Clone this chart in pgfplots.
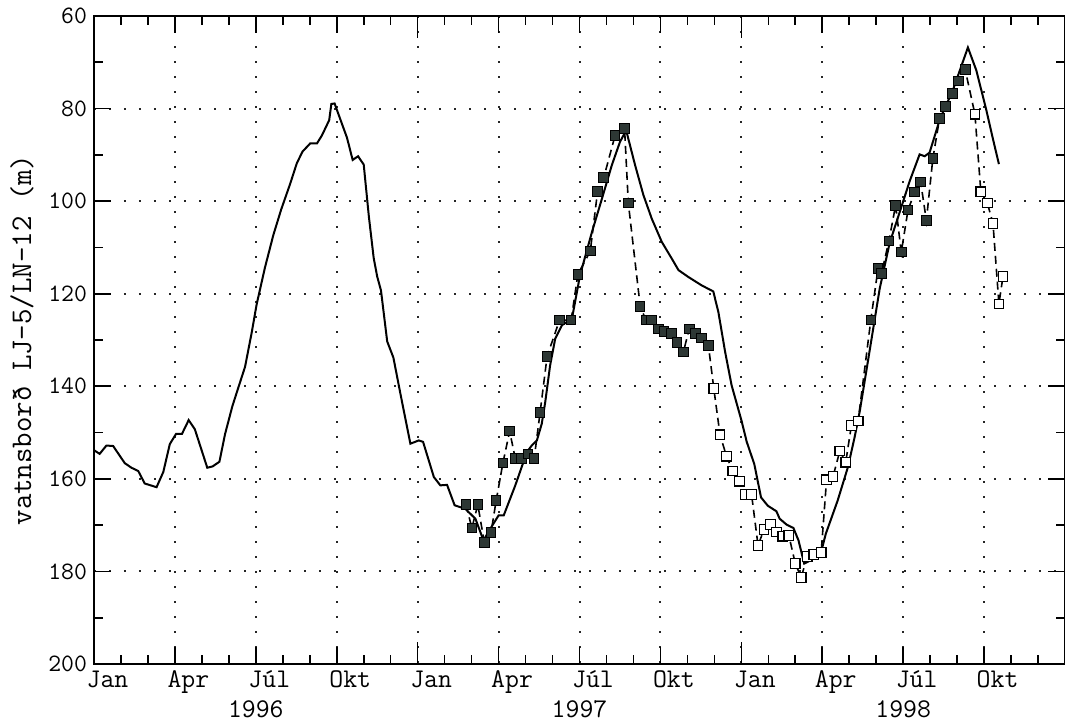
\documentclass[border=0pt]{standalone}
\usepackage{pgfplots}
\usepackage{pgfplotstable}
\pgfplotsset{compat=1.18}
\definecolor{sqfill}{RGB}{45,55,52}

\pgfplotstableread{
m v
0.00 153.8
0.21 154.6
0.46 152.8
0.71 152.9
1.14 156.6
1.39 157.6
1.64 158.3
1.88 161.0
2.32 161.8
2.57 158.5
2.81 152.5
3.04 150.3
3.26 150.3
3.51 147.3
3.74 149.3
4.20 157.6
4.40 157.3
4.65 156.3
4.86 150.3
5.13 144.3
5.35 140.3
5.60 135.8
5.85 128.3
6.03 122.3
6.34 114.3
6.65 107.3
6.94 101.8
7.27 96.3
7.52 91.8
7.73 89.3
8.02 87.5
8.27 87.5
8.45 85.8
8.72 82.5
8.80 79.0
8.92 78.9
9.10 81.8
9.38 86.3
9.59 91.1
9.79 90.3
10.00 92.1
10.19 103.3
10.37 112.3
10.50 116.3
10.64 119.3
10.87 130.3
11.10 133.8
11.35 141.3
11.73 152.4
12.04 151.7
12.20 152.0
12.60 159.6
12.84 161.4
13.09 161.3
13.37 165.7
13.77 166.5
14.14 168.6
14.44 173.3
14.69 170.8
15.00 167.9
15.19 167.9
15.62 161.4
16.05 154.2
16.23 152.8
16.42 151.7
16.60 148.1
16.73 143.4
16.91 135.5
17.10 129.7
17.35 126.8
17.72 125.4
18.02 116.0
18.46 106.7
18.83 99.5
19.20 92.2
19.50 87.2
19.73 84.7
20.06 92.2
20.37 98.7
20.68 103.8
21.05 108.8
21.42 112.4
21.67 114.9
22.04 116.4
22.53 118.2
22.96 119.5
23.15 124.0
23.40 132.6
23.64 139.8
24.01 147.5
24.20 152.0
24.48 156.8
24.73 164.0
24.98 165.8
25.30 167.0
25.42 168.6
25.68 169.9
25.93 170.6
26.12 173.3
26.33 178.3
26.50 177.8
26.94 176.2
27.13 171.9
27.57 164.7
27.95 157.5
28.20 151.0
28.39 145.4
28.76 132.2
29.13 118.9
29.50 109.0
29.87 102.4
30.24 95.7
30.61 89.9
30.80 90.3
30.98 89.5
31.35 82.5
31.85 75.9
32.40 66.8
32.71 71.7
33.07 80.0
33.33 86.6
33.55 92.0
}\levelline

\pgfplotstableread{
m v t
13.79 165.6 f
14.01 170.6 f
14.23 165.6 f
14.47 173.7 f
14.72 171.6 f
14.91 164.7 f
15.16 156.6 f
15.41 149.7 f
15.62 155.6 f
15.84 155.6 f
16.09 154.6 f
16.32 155.6 f
16.54 145.6 f
16.80 133.5 f
17.26 125.7 f
17.69 125.7 f
17.94 115.8 f
18.40 110.8 f
18.67 97.9 f
18.90 94.9 f
19.32 85.8 f
19.67 84.3 f
19.81 100.4 f
20.25 122.7 f
20.46 125.7 f
20.68 125.7 f
20.93 127.6 f
21.14 128.1 f
21.40 128.6 f
21.62 130.6 f
21.85 132.6 f
22.07 127.6 f
22.31 128.6 f
22.53 129.6 f
22.78 131.2 f
22.98 140.5 o
23.21 150.5 o
23.45 155.1 o
23.68 158.3 o
23.93 160.5 o
24.15 163.4 o
24.38 163.4 o
24.62 174.4 o
24.84 170.9 o
25.08 169.9 o
25.31 171.5 o
25.54 172.4 o
25.76 172.2 o
26.00 178.3 o
26.22 181.3 o
26.44 176.8 o
26.69 176.3 o
26.96 175.9 o
27.16 160.2 o
27.40 159.5 o
27.65 154.0 o
27.87 156.4 o
28.08 148.5 o
28.33 147.5 o
28.80 125.7 f
29.07 114.5 f
29.20 115.6 f
29.47 108.6 f
29.72 100.9 f
29.93 111.0 f
30.18 101.9 f
30.43 98.0 f
30.65 95.9 f
30.86 104.2 f
31.10 90.8 f
31.35 82.1 f
31.58 79.6 f
31.82 76.7 f
32.06 74.0 f
32.30 71.6 f
32.66 81.2 o
32.88 98.0 o
33.12 100.4 o
33.33 104.8 o
33.55 122.2 o
33.70 116.3 o
}\wells

\begin{document}
\begin{tikzpicture}
\useasboundingbox (-47pt,-30pt) rectangle (485.5pt,332pt);
\begin{axis}[
  at={(0,0)}, anchor=south west,
  scale only axis, width=485.5pt, height=324pt,
  xmin=0, xmax=36, ymin=60, ymax=200, y dir=reverse,
  axis line style={line width=0.9pt},
  xtick={0,3,...,33},
  xticklabels={Jan,Apr,Júl,Okt,Jan,Apr,Júl,Okt,Jan,Apr,Júl,Okt},
  minor xtick={1,2,4,5,7,8,10,11,13,14,16,17,19,20,22,23,25,26,28,29,31,32,34,35},
  ytick={60,80,...,200},
  minor ytick={70,90,...,190},
  tick align=inside,
  major tick length=8.5pt, minor tick length=4.5pt,
  every tick/.style={black, line width=0.8pt},
  extra x ticks={12,24}, extra x tick labels={},
  extra x tick style={major tick length=11pt, grid=none},
  xmajorgrids, ymajorgrids,
  grid style={black!85, line width=1pt, dash pattern=on 0.9pt off 6.6pt},
  xticklabel style={font=\fontsize{13.5}{16}\selectfont\ttfamily, xshift=6.75pt},
  yticklabel style={font=\fontsize{12.5}{15}\selectfont\ttfamily},
  /pgf/number format/assume math mode=true,
  clip=false,
]
\addplot[black, line width=1pt] table[x=m,y=v] {\levelline};
\addplot[black, line width=0.8pt, dash pattern=on 4pt off 2.5pt] table[x=m,y=v] {\wells};
\addplot[scatter, only marks, scatter src=explicit symbolic,
  scatter/classes={
    f={mark=square*, mark size=2.4pt, draw=black, fill=sqfill, line width=0.5pt},
    o={mark=square*, mark size=2.4pt, draw=black, fill=white, line width=0.6pt}}]
  table[x=m,y=v,meta=t] {\wells};
\node[anchor=north, inner sep=0pt, yshift=-18pt, font=\fontsize{13.5}{16}\selectfont\ttfamily] at (axis cs:6,200) {1996};
\node[anchor=north, inner sep=0pt, yshift=-18pt, font=\fontsize{13.5}{16}\selectfont\ttfamily] at (axis cs:18,200) {1997};
\node[anchor=north, inner sep=0pt, yshift=-18pt, font=\fontsize{13.5}{16}\selectfont\ttfamily] at (axis cs:30,200) {1998};
\end{axis}
\node[rotate=90, font=\fontsize{15}{18}\selectfont\ttfamily] at (-36pt,162pt) {vatnsborð LJ-5/LN-12 (m)};
\end{tikzpicture}
\end{document}
